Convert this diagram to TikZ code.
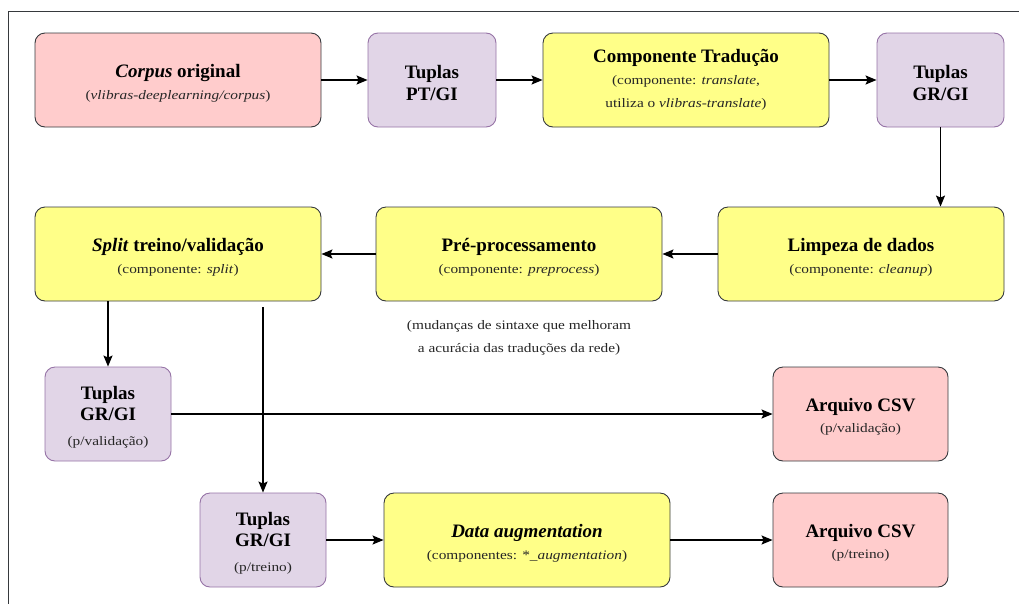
\documentclass[tikz,border=0pt]{standalone}
\usepackage{fontspec}
\setmainfont{Liberation Serif}
\newfontfamily\subf{Liberation Serif}[FakeStretch=1.18]
\usetikzlibrary{arrows.meta}
\definecolor{redf}{HTML}{FFCCCC}
\definecolor{purf}{HTML}{E1D5E7}
\definecolor{purd}{HTML}{9673A6}
\definecolor{yelf}{HTML}{FFFF88}
\definecolor{boxd}{HTML}{36393D}
\definecolor{subc}{HTML}{262626}
\tikzset{
  box/.style={draw=boxd, line width=0.9pt, rounded corners=10pt, align=center, inner sep=0pt,
    font=\fontsize{13}{23}\selectfont},
  redbox/.style={box, fill=redf},
  yelbox/.style={box, fill=yelf},
  purbox/.style={box, fill=purf, draw=purd},
  arr/.style={-{Stealth[length=11pt,width=9pt,inset=2pt]}, line width=1.3pt, black},
}
\newcommand{\tl}[1]{{\fontsize{19}{23}\selectfont\bfseries #1}}
\newcommand{\tlf}[1]{{\fontsize{19}{23}\selectfont\bfseries\rule{0pt}{19pt}#1}}
\newcommand{\sbt}[1]{{\subf\fontsize{13}{23}\selectfont\color{subc}#1}}
\begin{document}
\begin{tikzpicture}[x=1pt,y=-1pt]
\useasboundingbox (0,0) rectangle (1019,603);
\draw[boxd, line width=0.8pt] (8,610) -- (8,11) -- (1025,11);
% row 1
\node[redbox, minimum width=286pt, minimum height=94pt] (corpus) at (178,80) {\tlf{\textit{Corpus} original}\\[-1pt]\sbt{(\textit{vlibras-deeplearning/corpus})}};
\node[purbox, minimum width=128pt, minimum height=94pt] (ptgi) at (432,80) {\tlf{Tuplas}\\[-1pt]\tl{PT/GI}};
\node[yelbox, minimum width=286pt, minimum height=94pt] (trad) at (686,80) {\tl{Componente Tradução}\\[-1pt]\sbt{(componente: \textit{translate},}\\\sbt{utiliza o \textit{vlibras-translate})}};
\node[purbox, minimum width=127pt, minimum height=94pt] (grgi) at (940.5,80) {\tlf{Tuplas}\\[-1pt]\tl{GR/GI}};
% row 2
\node[yelbox, minimum width=286pt, minimum height=94pt] (limp) at (861,254) {\tlf{Limpeza de dados}\\[-1pt]\sbt{(componente: \textit{cleanup})}};
\node[yelbox, minimum width=286pt, minimum height=94pt] (pre) at (519,254) {\tlf{Pré-processamento}\\[-1pt]\sbt{(componente: \textit{preprocess})}};
\node[yelbox, minimum width=286pt, minimum height=94pt] (split) at (178,254) {\tlf{\textit{Split} treino/validação}\\[-1pt]\sbt{(componente: \textit{split})}};
\node[align=center, inner sep=0pt, font=\fontsize{13}{23}\selectfont] (note) at (519,338) {\sbt{(mudanças de sintaxe que melhoram}\\\sbt{a acurácia das traduções da rede)}};
% row 3
\node[purbox, minimum width=126pt, minimum height=94pt] (tval) at (108,414) {\tlf{Tuplas}\\[-2pt]\tl{GR/GI}\\[2pt]\sbt{(p/validação)}};
\node[redbox, minimum width=175pt, minimum height=94pt] (csvval) at (860.5,414) {\tlf{Arquivo CSV}\\[-2pt]\sbt{(p/validação)}};
% row 4
\node[purbox, minimum width=126pt, minimum height=94pt] (ttr) at (263,540) {\tlf{Tuplas}\\[-2pt]\tl{GR/GI}\\[2pt]\sbt{(p/treino)}};
\node[yelbox, minimum width=286pt, minimum height=94pt] (aug) at (527,540) {\tlf{\textit{Data augmentation}}\\[-1pt]\sbt{(componentes: *\_\textit{augmentation})}};
\node[redbox, minimum width=175pt, minimum height=94pt] (csvtr) at (860.5,540) {\tlf{Arquivo CSV}\\[-2pt]\sbt{(p/treino)}};
% arrows
\draw[arr] (corpus) -- (ptgi);
\draw[arr] (ptgi) -- (trad);
\draw[arr] (trad) -- (grgi);
\draw[arr] (grgi) -- (limp.north -| grgi);
\draw[arr] (limp) -- (pre);
\draw[arr] (pre) -- (split);
\draw[arr] (split.south -| tval) -- (tval);
\coordinate (sp) at ([yshift=-6pt]split.south -| ttr);
\draw[arr] (sp) -- (ttr);
\draw[arr] (tval) -- (csvval);
\draw[arr] (ttr) -- (aug);
\draw[arr] (aug) -- (csvtr);
\end{tikzpicture}
\end{document}
